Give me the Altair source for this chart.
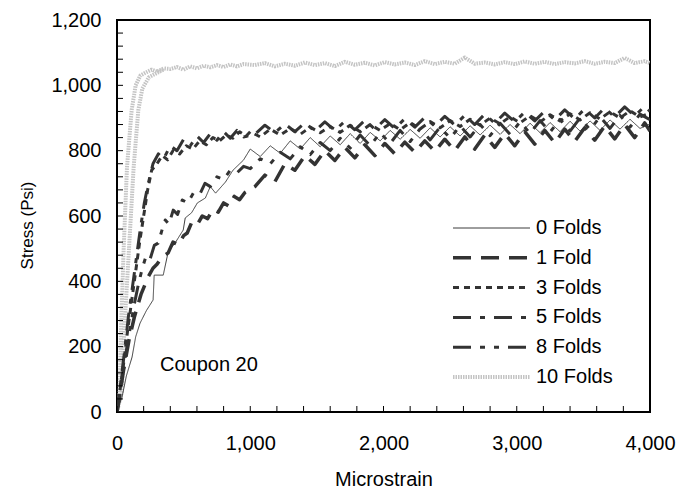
import altair as alt
import pandas as pd

SERIES = ["0 Folds", "1 Fold", "3 Folds", "5 Folds", "8 Folds", "10 Folds"]
COLORS = ["#3c3c3c", "#333333", "#333333", "#333333", "#333333", "#c4c4c4"]
DASHES = [[1, 0], [18, 10], [6, 5], [18, 9, 5, 9], [18, 9, 5, 9, 5, 9], [1.5, 1]]
WIDTHS = [1, 3.5, 3, 3, 3, 4]

X_LABELS = [0, 1000, 2000, 3000, 4000]
Y_LABELS = [0, 200, 400, 600, 800, 1000, 1200]
X_TICKS = [0, 200, 400, 600, 800, 1000, 1200, 1400, 1600, 1800, 2000, 2200, 2400,
           2600, 2800, 3000, 3200, 3400, 3600, 3800, 4000]
Y_TICKS = [0, 40, 80, 120, 160, 200, 240, 280, 320, 360, 400, 440, 480, 520, 560, 600,
           640, 680, 720, 760, 800, 840, 880, 920, 960, 1000, 1040, 1080, 1120, 1160, 1200]
ANNOTATION = "Coupon 20"

# shared strain grids for the plateau part
GRID_A = [1000, 1075, 1150, 1225, 1300, 1375, 1450, 1525, 1600, 1675, 1750, 1825, 1900,
          1975, 2050, 2125, 2200, 2275, 2350, 2425, 2500, 2575, 2650, 2725, 2800, 2875,
          2950, 3025, 3100, 3175, 3250, 3325, 3400, 3475, 3550, 3625, 3700, 3775, 3850,
          3925, 4000]
GRID_B = [1035, 1110, 1185, 1260, 1335, 1410, 1485, 1560, 1635, 1710, 1785, 1860, 1935,
          2010, 2085, 2160, 2235, 2310, 2385, 2460, 2535, 2610, 2685, 2760, 2835, 2910,
          2985, 3060, 3135, 3210, 3285, 3360, 3435, 3510, 3585, 3660, 3735, 3810, 3885,
          3960, 4000]

# 0 Folds
S0_X = [0, 15, 38, 70, 113, 140, 173, 220, 271, 279, 347, 384, 440, 497, 512, 560, 603,
        663, 700, 740, 814, 870, 949]
S0_Y = [0, 20, 46, 110, 168, 230, 272, 310, 343, 419, 419, 490, 520, 557, 594, 610, 640,
        655, 690, 670, 704, 740, 771]
S0_TAIL = [805, 782, 815, 792, 830, 805, 840, 812, 845, 818, 852, 822, 856, 830, 862, 835,
           865, 838, 870, 842, 873, 845, 876, 848, 878, 850, 880, 852, 884, 855, 886, 858,
           890, 860, 891, 862, 894, 866, 896, 868, 882]
# 1 Fold
S1_X = [0, 20, 50, 90, 130, 180, 233, 270, 300, 330, 360, 384, 420, 460, 500, 527, 560,
        600, 640, 680, 720, 760, 800, 840, 880, 920, 960]
S1_Y = [0, 50, 130, 220, 290, 360, 413, 440, 452, 470, 480, 487, 520, 512, 540, 548, 580,
        572, 600, 592, 620, 612, 640, 630, 660, 650, 672]
S1_TAIL = [690, 725, 705, 760, 740, 785, 758, 800, 770, 810, 778, 818, 785, 822, 790, 826,
           795, 830, 798, 835, 800, 842, 805, 848, 810, 852, 815, 858, 820, 862, 824, 866,
           828, 870, 832, 875, 836, 880, 840, 885, 860]
# 3 Folds
S3_X = [0, 20, 50, 80, 110, 140, 170, 200, 230, 260, 300, 340, 380, 420, 470, 520, 570,
        620, 670, 720, 770, 820, 870, 920, 970]
S3_Y = [0, 60, 150, 250, 340, 430, 520, 600, 680, 740, 760, 785, 772, 800, 790, 815, 805,
        830, 818, 840, 830, 848, 838, 858, 845]
S3_TAIL = [858, 842, 866, 848, 868, 850, 872, 855, 874, 856, 878, 858, 880, 862, 883, 864,
           886, 867, 889, 870, 892, 874, 896, 878, 900, 882, 904, 885, 907, 888, 910, 891,
           913, 894, 916, 897, 919, 900, 922, 903, 915]
# 5 Folds
S5_X = [0, 25, 55, 85, 115, 145, 175, 205, 235, 270, 310, 350, 400, 450, 500, 550, 600,
        650, 700, 750, 800, 850, 900, 950]
S5_Y = [0, 80, 180, 290, 380, 470, 560, 640, 700, 760, 790, 775, 815, 800, 835, 815, 845,
        825, 852, 832, 858, 838, 862, 842]
S5_TAIL = [850, 878, 855, 882, 858, 885, 860, 888, 862, 890, 864, 893, 866, 895, 868, 898,
           872, 902, 875, 905, 878, 908, 880, 912, 884, 915, 888, 918, 891, 921, 894, 925,
           897, 928, 900, 931, 903, 934, 906, 936, 920]
# 8 Folds
S8_X = [0, 20, 45, 75, 100, 130, 160, 190, 220, 250, 280, 309, 340, 362, 390, 422, 455,
        490, 530, 573, 620, 660, 700, 750, 800, 850, 900, 950]
S8_Y = [0, 50, 120, 200, 260, 330, 390, 440, 480, 470, 510, 517, 560, 588, 575, 618, 605,
        649, 640, 670, 665, 700, 690, 720, 712, 740, 732, 752]
S8_TAIL = [745, 775, 760, 795, 775, 812, 788, 825, 800, 838, 808, 848, 815, 855, 822, 862,
           828, 867, 833, 872, 838, 876, 842, 880, 846, 884, 850, 888, 853, 892, 857, 896,
           860, 900, 864, 904, 868, 908, 872, 912, 895]
# 10 Folds (two loading passes)
S10A_X = [0, 20, 30, 50, 75, 110, 140, 175, 220, 260, 300, 350, 400, 450, 500, 550, 600,
          650, 700, 750, 800, 850, 900, 950]
S10A_Y = [0, 60, 250, 500, 750, 924, 1000, 1030, 1040, 1048, 1042, 1052, 1050, 1056, 1048,
          1058, 1052, 1060, 1055, 1062, 1056, 1064, 1058, 1065]
S10_TAIL = [1062, 1068, 1058, 1066, 1060, 1070, 1062, 1068, 1059, 1072, 1063, 1069, 1061,
            1071, 1064, 1070, 1062, 1074, 1065, 1072, 1066, 1085, 1066, 1070, 1064, 1071,
            1065, 1073, 1066, 1072, 1065, 1071, 1067, 1074, 1066, 1072, 1068, 1084, 1068,
            1074, 1068]
S10B_X = [0, 35, 55, 90, 125, 160, 190, 240, 300, 350]
S10B_Y = [0, 60, 250, 500, 750, 924, 990, 1025, 1038, 1048]

rows = []


def add(series, path, xs, ys):
    assert len(xs) == len(ys), (series, len(xs), len(ys))
    for i, (x, y) in enumerate(zip(xs, ys)):
        rows.append({"series": series, "key": series + path, "idx": i,
                     "strain": x, "stress": y})


add("10 Folds", "a", S10A_X + GRID_B, S10A_Y + S10_TAIL)
add("10 Folds", "b", S10B_X, S10B_Y)
add("0 Folds", "a", S0_X + GRID_A, S0_Y + S0_TAIL)
add("8 Folds", "a", S8_X + GRID_A, S8_Y + S8_TAIL)
add("5 Folds", "a", S5_X + GRID_B, S5_Y + S5_TAIL)
add("3 Folds", "a", S3_X + GRID_A, S3_Y + S3_TAIL)
add("1 Fold", "a", S1_X + GRID_B, S1_Y + S1_TAIL)
df = pd.DataFrame(rows)

FS = 20
XSCALE = alt.Scale(domain=[0, 4000], nice=False, zero=False)
YSCALE = alt.Scale(domain=[0, 1200], nice=False, zero=False)
XAXIS = alt.Axis(values=X_LABELS, format=",d", ticks=False, tickSize=0, domain=False,
                 grid=False, labelFontSize=FS, labelColor="black", labelPadding=31,
                 labelBaseline="middle", labelFlush=False, title="Microstrain",
                 titleFontSize=FS, titleFontWeight="normal", titleColor="black",
                 titleX=266.5, titleY=67, titleBaseline="middle", titleAlign="center")
YAXIS = alt.Axis(values=Y_LABELS, format=",d", ticks=False, tickSize=0, domain=False,
                 grid=False, labelFontSize=FS, labelColor="black", labelPadding=16,
                 labelFlush=False, title="Stress (Psi)", titleFontSize=17,
                 titleFontWeight="normal", titleColor="black", titleX=-90, titleY=205,
                 titleBaseline="middle", titleAlign="center", titleAngle=270)

color = alt.Color("series:N", scale=alt.Scale(domain=SERIES, range=COLORS), legend=None)
dash = alt.StrokeDash("series:N", scale=alt.Scale(type="ordinal", domain=SERIES, range=DASHES),
                      legend=None)
width = alt.StrokeWidth("series:N", scale=alt.Scale(type="ordinal", domain=SERIES, range=WIDTHS),
                        legend=None)

lines = alt.Chart(df).mark_line(clip=True, strokeJoin="round").encode(
    x=alt.X("strain:Q", scale=XSCALE, axis=XAXIS),
    y=alt.Y("stress:Q", scale=YSCALE, axis=YAXIS),
    color=color, strokeDash=dash, strokeWidth=width,
    detail="key:N", order="idx:Q",
)

yticks = alt.Chart(pd.DataFrame({"stress": Y_TICKS})).mark_rule(
    color="black", strokeWidth=1).encode(
    y=alt.Y("stress:Q", scale=YSCALE, axis=YAXIS),
    x=alt.value(0), x2=alt.value(6),
)
xticks = alt.Chart(pd.DataFrame({"strain": X_TICKS})).mark_rule(
    color="black", strokeWidth=1).encode(
    x=alt.X("strain:Q", scale=XSCALE, axis=XAXIS),
    y=alt.value(392), y2=alt.value(386),
)

leg_df = pd.DataFrame({"series": SERIES, "row": list(range(len(SERIES)))})
leg_base = alt.Chart(leg_df).transform_calculate(ly="208 + datum.row * 29.8")
leg_lines = leg_base.mark_rule().encode(
    x=alt.value(336), x2=alt.value(413),
    y=alt.Y("ly:Q", scale=None),
    color=color, strokeDash=dash, strokeWidth=width,
)
leg_text = leg_base.mark_text(align="left", baseline="middle", fontSize=FS,
                              color="black").encode(
    x=alt.value(419), y=alt.Y("ly:Q", scale=None), text="series:N",
)

note = alt.Chart(pd.DataFrame({"t": [ANNOTATION]})).mark_text(
    align="left", baseline="middle", fontSize=FS, color="black").encode(
    x=alt.value(43), y=alt.value(345), text="t:N",
)

chart = alt.layer(lines, yticks, xticks, leg_lines, leg_text, note).properties(
    width=533, height=392,
    padding={"left": 117, "top": 20, "right": 29, "bottom": 81},
    autosize=alt.AutoSizeParams(type="none"),
    background="white",
).configure(font="Liberation Sans").configure_view(stroke="black", strokeWidth=2)

chart.save("out.html", embed_options={"renderer": "svg", "actions": False})
